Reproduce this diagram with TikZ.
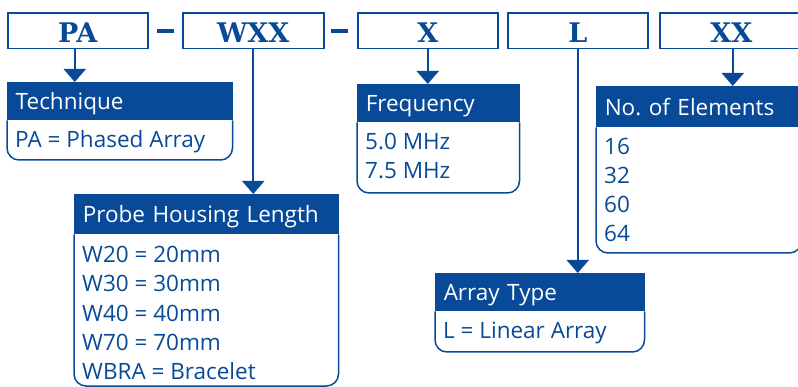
\documentclass[tikz,border=0pt]{standalone}
\usepackage{fontspec}
\setmainfont{Open Sans}
\newfontfamily\codefont{DejaVu Serif}
\usetikzlibrary{arrows.meta}
\definecolor{pblue}{RGB}{8,74,152}
\frenchspacing
\tikzset{
  code/.style={draw=pblue, line width=1.5pt, text=pblue, anchor=north west,
    minimum height=35.5pt, inner sep=0pt, text height=25pt, text depth=1pt,
    font=\codefont\bfseries\fontsize{27}{27}\selectfont},
  head/.style={draw=pblue, fill=pblue, line width=1.5pt, text=white, anchor=north west,
    inner xsep=8pt, inner ysep=0pt, align=left, text height=18pt, text depth=1pt,
    font=\fontsize{22.5}{29}\selectfont},
  item/.style={text=pblue, anchor=base west, inner sep=0pt,
    font=\fontsize{22.5}{29}\selectfont},
  frame/.style={draw=pblue, line width=1.5pt, rounded corners=12pt, line join=round},
  arr/.style={draw=pblue, line width=2pt, -{Triangle[width=22pt,length=13pt]}},
  joiner/.style={draw=pblue, line width=4pt}
}
\begin{document}
\begin{tikzpicture}[x=1pt,y=-1pt]
  \path[use as bounding box, clip] (0,0) rectangle (798,387);
  %Codigo de la sonda
  \node[code, minimum width=140pt] (pa) at (7,12.5) {PA};
  \node[code, minimum width=141pt] (wxx) at (182,12.5) {WXX};
  \node[code, minimum width=140pt] (x) at (357,12.5) {X};
  \node[code, minimum width=140pt] (l) at (507,12.5) {L};
  \node[code, minimum width=143pt] (xx) at (659,12.5) {XX};
  \draw[joiner] (157,31) -- (174,31);
  \draw[joiner] (331,31) -- (348,31);
  %Cabeceras
  \node[head, text width=208pt, minimum height=37pt] (tech) at (7,82) {Technique};
  \node[head, text width=145pt, minimum height=37pt] (freq) at (357,84) {Frequency};
  \node[head, text width=188pt, minimum height=40pt] (nelem) at (596,86) {No. of Elements};
  \node[head, text width=247pt, minimum height=39pt] (probe) at (74,194) {Probe Housing Length};
  \node[head, text width=192pt, minimum height=37pt] (atype) at (435,273) {Array Type};
  %Cuerpos
  \draw[frame] (tech.south west) -- (tech.south west |- 0,160) -- (tech.south east |- 0,160) -- (tech.south east);
  \draw[frame] (freq.south west) -- (freq.south west |- 0,193) -- (freq.south east |- 0,193) -- (freq.south east);
  \draw[frame] (nelem.south west) -- (nelem.south west |- 0,253) -- (nelem.south east |- 0,253) -- (nelem.south east);
  \draw[frame] (probe.south west) -- (probe.south west |- 0,386) -- (probe.south east |- 0,386) -- (probe.south east);
  \draw[frame] (atype.south west) -- (atype.south west |- 0,352) -- (atype.south east |- 0,352) -- (atype.south east);
  \node[item] (tech-1) at ([shift={(8,27)}]tech.south west) {PA = Phased Array};
  \foreach \t [count=\i] in {5.0 MHz, 7.5 MHz}
    \node[item] (freq-\i) at ([shift={(8,27+29*(\i-1))}]freq.south west) {\t};
  \foreach \t [count=\i] in {16, 32, 60, 64}
    \node[item] (nelem-\i) at ([shift={(8,27+29*(\i-1))}]nelem.south west) {\t};
  \foreach \t [count=\i] in {W20 = 20mm, W30 = 30mm, W40 = 40mm, W70 = 70mm, WBRA = Bracelet}
    \node[item] (probe-\i) at ([shift={(8,28+29.3*(\i-1))}]probe.south west) {\t};
  \node[item] (atype-1) at ([shift={(8,27)}]atype.south west) {L = Linear Array};
  %Flechas
  \draw[arr] ([xshift=-3pt]pa.south) -- ([xshift=-3pt]pa.south |- tech.north);
  \draw[arr] (wxx.south) -- (wxx.south |- probe.north);
  \draw[arr] (x.south) -- (x.south |- freq.north);
  \draw[arr] (l.south) -- (l.south |- atype.north);
  \draw[arr] ([xshift=1.5pt]xx.south) -- ([xshift=1.5pt]xx.south |- nelem.north);
\end{tikzpicture}
\end{document}
